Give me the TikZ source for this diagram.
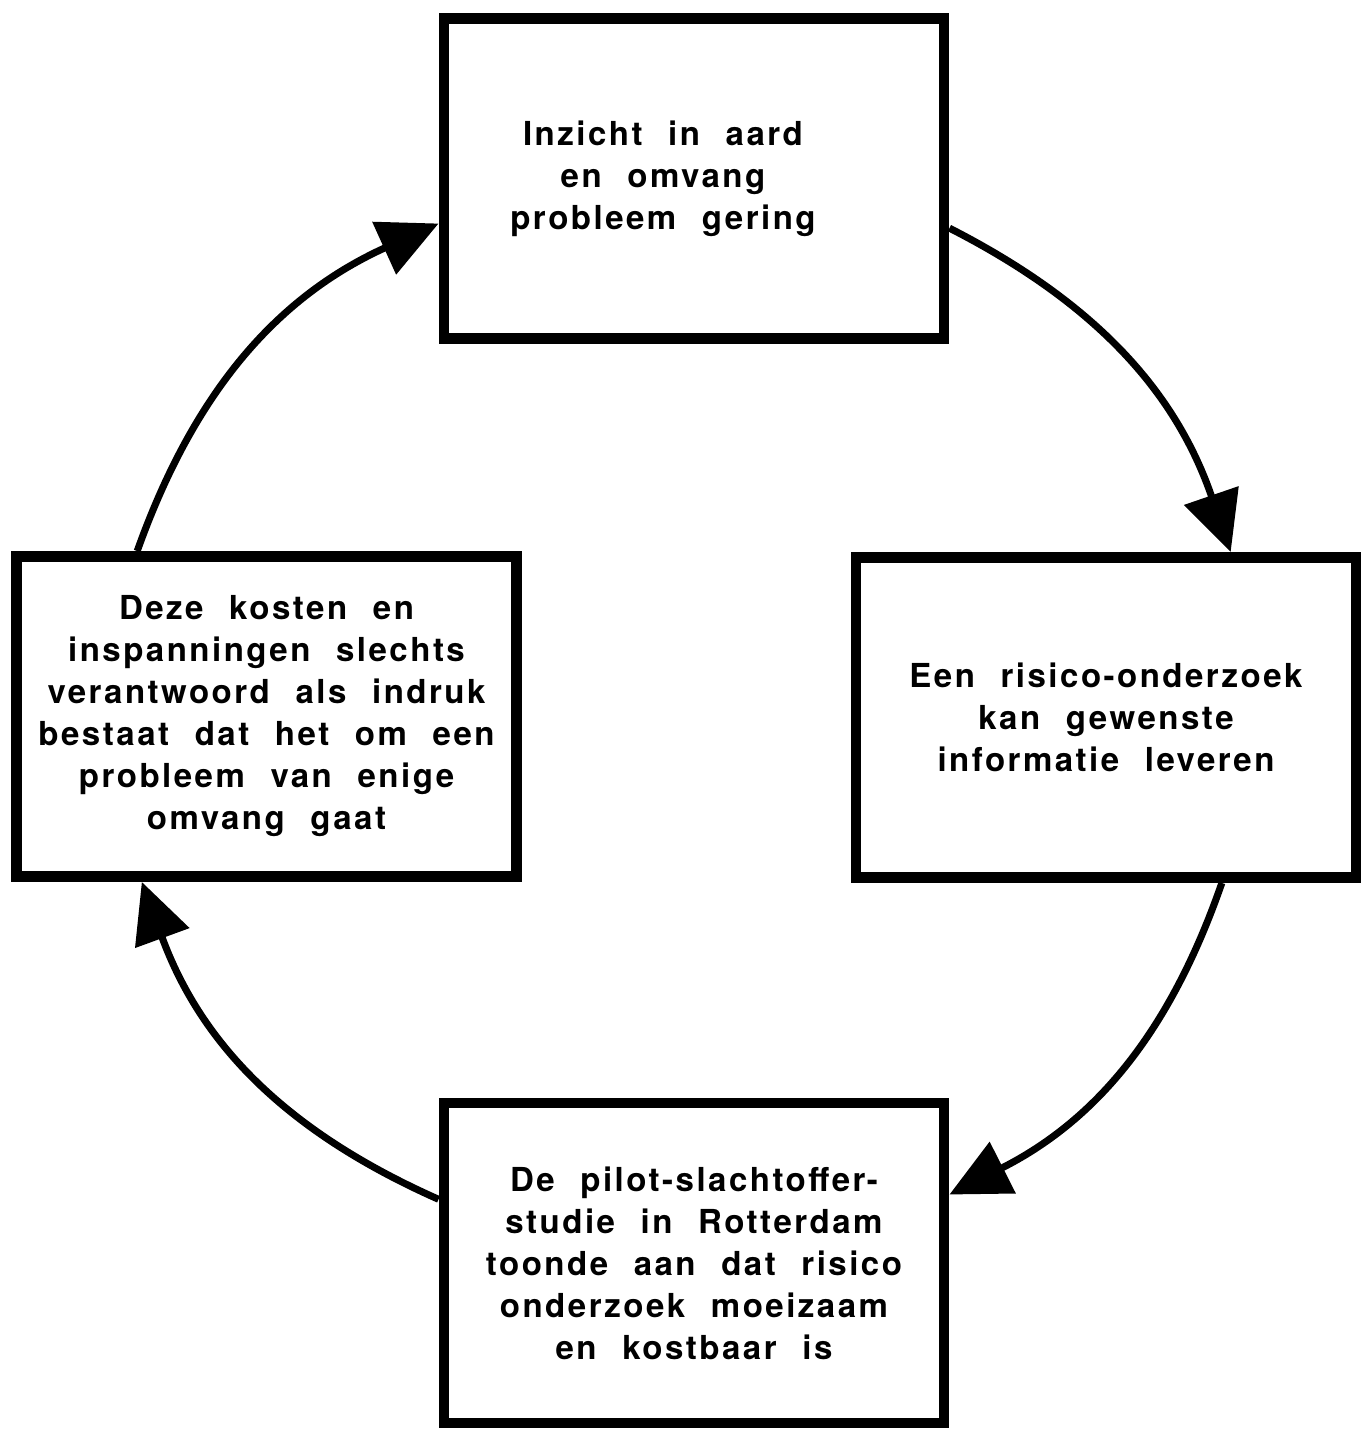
\documentclass[tikz,border=0pt]{standalone}
\usepackage{fontspec}
\usepackage{tikz}
\usetikzlibrary{arrows.meta,positioning}
\newfontfamily\cyclefont[LetterSpace=7.5,WordSpace=2.2]{TeX Gyre Heros}
\tikzset{
  cycletext/.style={align=center,inner sep=0pt,font=\cyclefont\bfseries\fontsize{18.8}{23.9}\selectfont},
  cyclebox/.style={cycletext,draw,line width=6.2pt,minimum width=10cm,minimum height=6.4cm},
  cyclearrow/.style={-{Triangle[length=34pt,width=32pt]},line width=4pt}
}
\begin{document}
\begin{tikzpicture}[x=0.2mm,y=0.2mm]
\useasboundingbox (0,0) rectangle (1367,1430);
\node[cyclebox] (inzicht) at (694,1251.5) {};
\node[cycletext] (inzichttekst) at ([xshift=-0.62cm]inzicht.center) {Inzicht in aard\\en omvang\\probleem gering};
\node[cyclebox] (risico) at (1106,712.5) {Een risico-onderzoek\\kan gewenste\\informatie leveren};
\node[cyclebox] (pilot) at (694,167) {De pilot-slachtoffer-\\studie in Rotterdam\\toonde aan dat risico\\onderzoek moeizaam\\en kostbaar is};
\node[cyclebox] (kosten) at (266.5,713.5) {Deze kosten en\\inspanningen slechts\\verantwoord als indruk\\bestaat dat het om een\\probleem van enige\\omvang gaat};
% de cirkel
\draw[cyclearrow] (inzicht.-11) to[bend left=22] (risico.53);
\draw[cyclearrow] (risico.-55) to[bend left=22] (pilot.15);
\draw[cyclearrow] (pilot.166) to[bend left=23] (kosten.-127.5);
\draw[cyclearrow] (kosten.128) to[bend left=23] (inzicht.190);
\end{tikzpicture}
\end{document}
